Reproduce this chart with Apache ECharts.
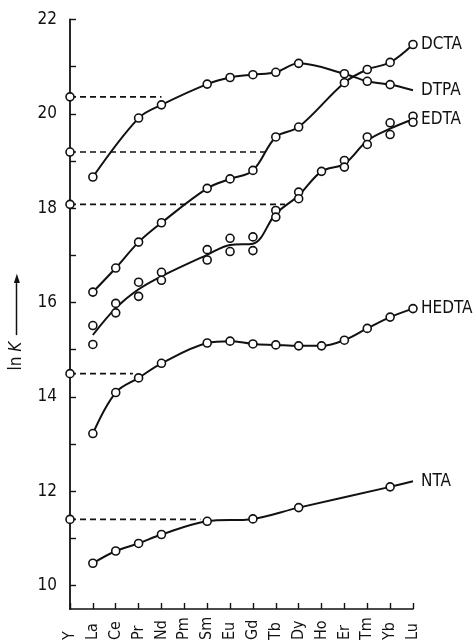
<!DOCTYPE html>
<html>
<head>
<meta charset="utf-8">
<script src="https://cdn.jsdelivr.net/npm/echarts@6/dist/echarts.min.js"></script>
<style>
html,body{margin:0;padding:0;background:#fff;}
#chart{width:476px;height:643px;}
</style>
</head>
<body>
<div id="chart"></div>
<script>
// ---- data ----
const categories = ['Y','La','Ce','Pr','Nd','Pm','Sm','Eu','Gd','Tb','Dy','Ho','Er','Tm','Yb','Lu'];
const dtpa  = [null, 18.66, null, 19.91, 20.19, null, 20.63, 20.77, 20.83, 20.88, 21.07, null, 20.85, 20.69, 20.62, 20.50];
const dcta  = [null, 16.22, 16.73, 17.28, 17.69, null, 18.42, 18.62, 18.80, 19.51, 19.72, null, 20.66, 20.94, 21.09, 21.47];
const edtaA = [null, 15.51, 15.98, 16.43, 16.64, null, 17.12, 17.36, 17.39, 17.95, 18.34, 18.78, 19.01, 19.51, 19.81, 19.95];
const edtaB = [null, 15.11, 15.78, 16.13, 16.47, null, 16.90, 17.08, 17.10, 17.81, 18.20, null, 18.87, 19.35, 19.56, 19.82];
const hedta = [null, 13.22, 14.09, 14.40, 14.71, null, 15.14, 15.18, 15.12, 15.10, 15.08, 15.08, 15.20, 15.45, 15.69, 15.87];
const nta   = [null, 10.47, 10.73, 10.89, 11.08, null, 11.36, null, 11.41, null, 11.65, null, null, null, 12.09, 12.21];
// ln K of the Y complexes and the category position where the dashed guide meets the curve
const yttriumNames = ['DTPA','DCTA','EDTA','HEDTA','NTA'];
const yttriumLnK   = [20.36, 19.19, 18.08, 14.49, 11.40];
const guideEnd     = [4.0, 8.6, 9.4, 2.75, 5.7];
const yTicks  = [10,11,12,13,14,15,16,17,18,19,20,21,22];
const yLabels = [10,12,14,16,18,20,22];
const noEndMarker = ['DTPA','NTA'];

// ---- build ----
const FONT = '"DejaVu Sans Condensed", "Liberation Sans Narrow", "DejaVu Sans", sans-serif';
const INK = '#111';
function pts(arr, name) {
  const out = [];
  arr.forEach((v, i) => {
    if (v === null) return;
    const item = {value: [i, v]};
    if (noEndMarker.includes(name) && i === arr.length - 1) item.symbol = 'none';
    out.push(item);
  });
  return out;
}
const edtaMid = edtaA.map((a, i) => {
  const b = edtaB[i];
  if (a === null) return b;
  if (b === null) return a;
  return +((a + b) / 2).toFixed(3);
});
const markerStyle = {color: '#fff', borderColor: INK, borderWidth: 1.6, opacity: 1};
const lineBase = {
  type: 'line', smooth: 0.35, connectNulls: true, clip: false,
  symbol: 'circle', symbolSize: 8,
  itemStyle: markerStyle,
  lineStyle: {color: INK, width: 2},
  z: 3,
  endLabel: {show: true, formatter: '{a}', distance: 8, color: INK,
             fontFamily: FONT, fontSize: 17},
  emphasis: {disabled: true}, animation: false
};
const series = [];
[['DTPA', dtpa], ['DCTA', dcta], ['HEDTA', hedta], ['NTA', nta]].forEach(([n, arr]) => {
  series.push(Object.assign({}, lineBase, {name: n, data: pts(arr, n)}));
});
series.push(Object.assign({}, lineBase, {name: 'EDTA', data: pts(edtaMid, 'EDTA'), showSymbol: false, symbol: 'none'}));
[edtaA, edtaB].forEach(arr => {
  series.push({type: 'scatter', name: 'EDTA pts', data: pts(arr, 'EDTA'), symbol: 'circle', symbolSize: 8,
    itemStyle: markerStyle, z: 4, clip: false,
    emphasis: {disabled: true}, animation: false});
});
yttriumNames.forEach((n, k) => {
  series.push({type: 'line', name: 'Y ' + n, clip: false, z: 2,
    data: [{value: [0, yttriumLnK[k]]}, {value: [guideEnd[k], yttriumLnK[k]], symbol: 'none'}],
    symbol: 'circle', symbolSize: 8,
    itemStyle: markerStyle,
    lineStyle: {color: INK, width: 1.6, type: [6, 4]},
    emphasis: {disabled: true}, animation: false});
});

const chart = echarts.init(document.getElementById('chart'), null, {renderer: 'canvas'});
chart.setOption({
  backgroundColor: '#fff',
  animation: false,
  grid: {left: 68, right: 63, top: 19.5, bottom: 33, containLabel: false},
  xAxis: {
    type: 'value', min: 0, max: categories.length - 1, interval: 1,
    splitLine: {show: false},
    axisLine: {show: true, lineStyle: {color: INK, width: 1.6}},
    axisTick: {show: true, inside: true, length: 6, lineStyle: {color: INK, width: 1.4}},
    axisLabel: {rotate: 90, align: 'left', verticalAlign: 'middle', margin: 31,
      color: INK, fontFamily: FONT, fontSize: 16,
      formatter: v => categories[v] || ''}
  },
  yAxis: {
    type: 'value', min: 9.5, max: 22,
    splitLine: {show: false},
    axisLine: {show: true, lineStyle: {color: INK, width: 1.8}},
    axisTick: {show: true, inside: true, length: 6, customValues: yTicks, lineStyle: {color: INK, width: 1.4}},
    axisLabel: {customValues: yLabels, margin: 13, color: INK, fontFamily: FONT, fontSize: 17},
    name: '{t|ln }{k|K}  {bar|}{head|►}{sp|}',
    nameLocation: 'middle', nameGap: 45, nameRotate: 90,
    nameTextStyle: {
      rich: {
        t: {fontFamily: FONT, fontSize: 17, color: INK},
        k: {fontFamily: FONT, fontSize: 17, color: INK, fontStyle: 'italic'},
        bar: {width: 52, height: 1.5, backgroundColor: INK},
        head: {fontFamily: 'DejaVu Sans', fontSize: 12, color: INK},
        sp: {width: 16}
      }
    }
  },
  series: series
});
</script>
</body>
</html>
